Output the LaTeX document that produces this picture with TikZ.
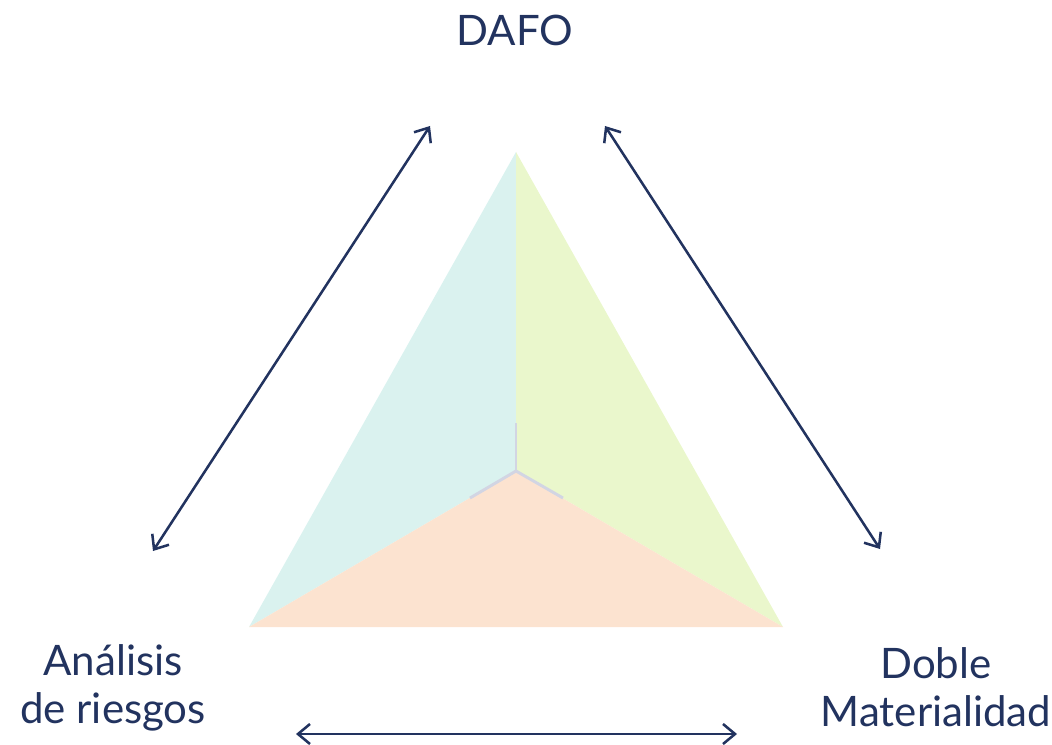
\documentclass[tikz,border=0pt]{standalone}
\usepackage{fontspec}
\setmainfont{Lato}
\usetikzlibrary{arrows.meta}
\definecolor{navy}{HTML}{22335F}
\definecolor{cyanf}{HTML}{DAF2EF}
\definecolor{greenf}{HTML}{EAF7CC}
\definecolor{peachf}{HTML}{FCE3D0}
\definecolor{ygray}{HTML}{D2D5E3}
\begin{document}
\begin{tikzpicture}[x=0.75pt,y=-0.75pt,
  conn/.style={draw=navy,line width=1.9pt,{Straight Barb[length=9pt,width=15pt,line width=1.9pt]}-{Straight Barb[length=9pt,width=15pt,line width=1.9pt]}},
  lbl/.style={text=navy,font=\fontsize{31.5}{36}\selectfont,align=center,inner sep=0pt},
  ylines/.style={draw=ygray,line width=2.2pt}]
\useasboundingbox (0,0) rectangle (1052,745);
\coordinate (A) at (516,152);
\coordinate (BL) at (249,627);
\coordinate (BR) at (783,627);
\coordinate (C) at (516,471);
\fill[cyanf] (A) -- (C) -- (BL) -- cycle;
\fill[greenf] (A) -- (C) -- (BR) -- cycle;
\fill[peachf] (C) -- (BL) -- (BR) -- cycle;
\coordinate (yu) at (516,423);
\coordinate (yl) at (470,498);
\coordinate (yr) at (563,498);
\draw[ylines] (yu) -- (C);
\draw[ylines] (yl) -- (C) -- (yr);
\node[lbl] (dafo) at (515,30) {DAFO};
\node[lbl] (ana) at (113,688) {Análisis\\de riesgos};
\node[lbl] (dob) at (936,687) {Doble\\Materialidad};
\coordinate (l1) at (430,126);
\coordinate (l2) at (153,551);
\coordinate (r1) at (605,126);
\coordinate (r2) at (880,549);
\coordinate (b1) at (296,734);
\coordinate (b2) at (737,734);
\draw[conn] (l1) -- (l2);
\draw[conn] (r1) -- (r2);
\draw[conn] (b1) -- (b2);
\end{tikzpicture}
\end{document}
